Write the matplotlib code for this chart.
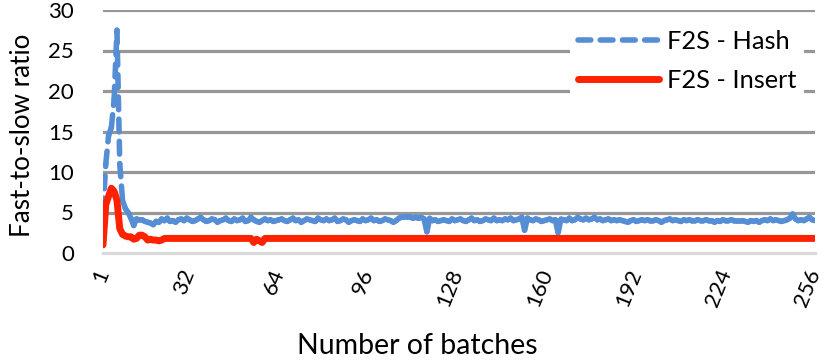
import numpy as np
import matplotlib.pyplot as plt
from matplotlib.collections import LineCollection
from matplotlib.lines import Line2D

plt.rcParams['font.family'] = ['Lato', 'DejaVu Sans']

# fast-to-slow ratio per batch (batches 1..256)
hash_ratio = [
    5.2, 11.0, 14.5, 15.5, 19.0, 27.5, 11.0, 6.5, 5.5, 5.0, 4.3, 3.4, 4.2, 4.1, 4.1, 3.9,
    3.8, 3.7, 3.5, 3.9, 3.8, 4.2, 4.0, 4.3, 3.9, 4.0, 3.8, 4.1, 4.2, 4.0, 4.3, 4.1,
    3.9, 4.0, 4.2, 4.4, 4.1, 3.9, 4.0, 4.2, 4.1, 3.8, 4.0, 4.1, 4.3, 4.0, 3.9, 4.2,
    4.0, 4.1, 4.3, 3.9, 4.0, 4.4, 4.1, 3.9, 3.8, 4.0, 4.2, 4.0, 4.1, 3.9, 4.0, 4.1,
    4.2, 4.0, 3.9, 4.1, 4.3, 4.0, 4.1, 3.8, 4.0, 4.2, 4.1, 4.0, 3.9, 4.3, 4.1, 4.0,
    4.2, 4.0, 4.1, 4.3, 3.9, 4.0, 4.2, 4.1, 3.8, 4.0, 4.1, 4.0, 3.9, 4.2, 4.0, 4.1,
    4.3, 4.0, 4.1, 3.9, 4.0, 4.2, 4.1, 4.0, 3.8, 4.0, 4.3, 4.4, 4.4, 4.4, 4.4, 4.3,
    4.4, 4.3, 4.4, 4.2, 2.6, 4.3, 4.0, 4.1, 3.9, 4.0, 4.1, 4.0, 3.9, 4.2, 4.0, 4.1,
    4.2, 4.0, 3.9, 4.1, 4.3, 4.0, 4.1, 3.9, 4.0, 4.2, 4.1, 4.0, 4.3, 4.0, 4.1, 4.0,
    4.2, 4.1, 4.3, 4.0, 4.1, 4.2, 4.4, 2.8, 4.3, 4.1, 4.0, 4.2, 4.1, 3.9, 4.0, 4.1,
    4.2, 4.0, 4.1, 2.5, 4.2, 4.1, 4.0, 4.3, 4.0, 4.1, 4.4, 4.2, 4.1, 4.3, 4.1, 4.2,
    4.4, 4.1, 4.2, 4.0, 4.1, 4.2, 4.0, 4.1, 4.0, 4.1, 4.0, 3.9, 3.8, 4.0, 4.1, 3.9,
    4.0, 4.1, 4.0, 4.1, 4.0, 4.0, 4.1, 4.0, 3.8, 4.0, 4.1, 4.2, 4.0, 4.1, 4.0, 3.9,
    4.1, 4.0, 4.1, 4.0, 4.0, 4.1, 4.0, 4.0, 4.1, 4.0, 4.0, 3.8, 4.0, 3.9, 4.1, 4.0,
    4.0, 4.1, 4.0, 4.0, 4.0, 4.0, 3.9, 3.8, 4.0, 3.9, 4.0, 3.8, 4.0, 4.1, 4.0, 4.2,
    4.0, 4.1, 4.0, 3.9, 4.0, 4.1, 4.3, 4.8, 4.2, 4.0, 4.1, 4.0, 4.2, 4.4, 4.1, 4.0,
]
insert_ratio = [
    1.0, 6.0, 7.0, 8.0, 7.6, 6.5, 3.0, 2.3, 2.1, 2.0, 2.0, 1.7, 1.8, 2.2, 2.2, 2.0,
    1.6, 1.7, 1.6, 1.6, 1.5, 1.6, 1.8, 1.8, 1.8, 1.8, 1.8, 1.8, 1.8, 1.8, 1.8, 1.8,
    1.8, 1.8, 1.8, 1.8, 1.8, 1.8, 1.8, 1.8, 1.8, 1.8, 1.8, 1.8, 1.8, 1.8, 1.8, 1.8,
    1.8, 1.8, 1.8, 1.8, 1.8, 1.8, 1.3, 1.7, 1.5, 1.3, 1.8, 1.8, 1.8, 1.8, 1.8, 1.8,
    1.8, 1.8, 1.8, 1.8, 1.8, 1.8, 1.8, 1.8, 1.8, 1.8, 1.8, 1.8, 1.8, 1.8, 1.8, 1.8,
    1.8, 1.8, 1.8, 1.8, 1.8, 1.8, 1.8, 1.8, 1.8, 1.8, 1.8, 1.8, 1.8, 1.8, 1.8, 1.8,
    1.8, 1.8, 1.8, 1.8, 1.8, 1.8, 1.8, 1.8, 1.8, 1.8, 1.8, 1.8, 1.8, 1.8, 1.8, 1.8,
    1.8, 1.8, 1.8, 1.8, 1.8, 1.8, 1.8, 1.8, 1.8, 1.8, 1.8, 1.8, 1.8, 1.8, 1.8, 1.8,
    1.8, 1.8, 1.8, 1.8, 1.8, 1.8, 1.8, 1.8, 1.8, 1.8, 1.8, 1.8, 1.8, 1.8, 1.8, 1.8,
    1.8, 1.8, 1.8, 1.8, 1.8, 1.8, 1.8, 1.8, 1.8, 1.8, 1.8, 1.8, 1.8, 1.8, 1.8, 1.8,
    1.8, 1.8, 1.8, 1.8, 1.8, 1.8, 1.8, 1.8, 1.8, 1.8, 1.8, 1.8, 1.8, 1.8, 1.8, 1.8,
    1.8, 1.8, 1.8, 1.8, 1.8, 1.8, 1.8, 1.8, 1.8, 1.8, 1.8, 1.8, 1.8, 1.8, 1.8, 1.8,
    1.8, 1.8, 1.8, 1.8, 1.8, 1.8, 1.8, 1.8, 1.8, 1.8, 1.8, 1.8, 1.8, 1.8, 1.8, 1.8,
    1.8, 1.8, 1.8, 1.8, 1.8, 1.8, 1.8, 1.8, 1.8, 1.8, 1.8, 1.8, 1.8, 1.8, 1.8, 1.8,
    1.8, 1.8, 1.8, 1.8, 1.8, 1.8, 1.8, 1.8, 1.8, 1.8, 1.8, 1.8, 1.8, 1.8, 1.8, 1.8,
    1.8, 1.8, 1.8, 1.8, 1.8, 1.8, 1.8, 1.8, 1.8, 1.8, 1.8, 1.8, 1.8, 1.8, 1.8, 1.8,
]
batches = np.arange(1, len(hash_ratio) + 1)
xticks = [1, 32, 64, 96, 128, 160, 192, 224, 256]

blue = '#558ED5'
red = '#FF2200'
dash = (0, (2.3, 1.7))

fig = plt.figure(figsize=(8.31, 3.64), dpi=100)
ax = fig.add_axes([103 / 831, 1 - 253 / 364, 712 / 831, 243 / 364])

# Excel restarts the dash pattern on every segment, so draw segments separately
pts = np.column_stack([batches, hash_ratio])
segs = np.stack([pts[:-1], pts[1:]], axis=1)
lc = LineCollection(segs, colors=blue, linewidths=4, linestyles=[dash],
                    capstyle='round', joinstyle='round', zorder=3)
ax.add_collection(lc)
ax.plot(batches, insert_ratio, color=red, lw=5, solid_capstyle='round',
        solid_joinstyle='round', zorder=4)

ax.set_xlim(1, 256)
ax.set_ylim(0, 30)
ax.set_yticks(range(0, 31, 5))
ax.set_xticks(xticks)
ax.set_xticklabels([str(t) for t in xticks], rotation=68, ha='right', va='center',
                   rotation_mode='anchor', fontsize=16)
ax.tick_params(axis='both', length=0, labelsize=16)
ax.tick_params(axis='y', pad=21)
ax.tick_params(axis='x', pad=12)

for y in range(5, 31, 5):
    ax.axhline(y, color='#979797', lw=2.3, zorder=1)
for s in ['top', 'right', 'left']:
    ax.spines[s].set_visible(False)
ax.spines['bottom'].set_color('#d9d9d9')
ax.spines['bottom'].set_linewidth(2.3)

ax.set_xlabel('Number of batches', fontsize=20.5, va='center')
ax.xaxis.set_label_coords((417 - 103) / 712, (253 - 346) / 243)
ax.set_ylabel('Fast-to-slow ratio', fontsize=18.7, va='center')
ax.yaxis.set_label_coords((23 - 103) / 712, (253 - 135) / 243)

handles = [Line2D([0], [0], color=blue, lw=4, linestyle=dash, dash_capstyle='round'),
           Line2D([0], [0], color=red, lw=5, solid_capstyle='round')]
leg = ax.legend(handles, ['F2S - Hash', 'F2S - Insert'], loc='upper left',
                bbox_to_anchor=((570 - 103) / 712, (253 - 22) / 243), fontsize=18.3,
                handlelength=3.2, handletextpad=0.3, labelspacing=0.65,
                frameon=True, fancybox=False, borderpad=0.3, borderaxespad=0)
leg.get_frame().set_facecolor('white')
leg.get_frame().set_edgecolor('none')
leg.get_frame().set_alpha(1)

fig.savefig('out.png', dpi=100)
